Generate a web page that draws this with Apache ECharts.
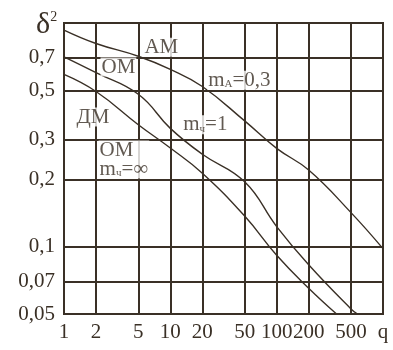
<!DOCTYPE html>
<html><head><meta charset="utf-8">
<script src="https://cdn.jsdelivr.net/npm/echarts@6/dist/echarts.min.js"></script>
<style>html,body{margin:0;padding:0;background:#fff}#c{width:393px;height:350px}</style>
</head><body><div id="c"></div>
<script>
const xTicks = [1, 2, 5, 10, 20, 50, 100, 200, 500, 1000];
const xTickLabels = ['1', '2', '5', '10', '20', '50', '100', '200', '500', 'q'];
const yTicks = [0.05, 0.07, 0.1, 0.2, 0.3, 0.5, 0.7];
const yTickLabels = ['0,05', '0,07', '0,1', '0,2', '0,3', '0,5', '0,7'];

const amQ = [1, 2, 5, 10, 20, 50, 100, 200, 500, 1000];
const amD = [0.93, 0.81, 0.71, 0.62, 0.52, 0.365, 0.275, 0.22, 0.142, 0.098];
const m1Q = [1, 2, 5, 10, 20, 50, 100, 200, 500, 576];
const m1D = [0.706, 0.60, 0.48, 0.338, 0.259, 0.195, 0.123, 0.083, 0.0527, 0.05];
const mInfQ = [1, 2, 5, 10, 20, 50, 100, 200, 366];
const mInfD = [0.589, 0.494, 0.351, 0.276, 0.213, 0.137, 0.0915, 0.0652, 0.05];

const noteTexts = ['АМ', 'ОМ', 'ДМ', 'ОМ\nm{s|ч}=∞', 'm{s|ч}=1', 'm{s|А}=0,3'];
const noteQ = [5.52, 2.18, 1.27, 2.09, 12.8, 22.0];
const noteD = [0.78, 0.635, 0.38, 0.245, 0.351, 0.555];

const ink = '#3a3026';
const font = 'Liberation Serif';

function pairs(xs, ys) { return xs.map((x, i) => [x, ys[i]]); }
function lookup(vals, labels, v) {
  const i = vals.findIndex(t => Math.abs(t - v) / t < 1e-6);
  return i >= 0 ? labels[i] : '';
}

const chart = echarts.init(document.getElementById('c'), null, { renderer: 'canvas' });
const lineStyle = { color: ink, width: 1.4 };
chart.setOption({
  animation: false,
  backgroundColor: '#fff',
  grid: { left: 64, right: 10, top: 23, bottom: 36, show: true, borderColor: ink, borderWidth: 2, backgroundColor: 'transparent' },
  xAxis: {
    type: 'log', logBase: 10, min: 1, max: 1000,
    axisLine: { show: true, lineStyle: { color: ink, width: 2 } },
    axisTick: { show: false, customValues: xTicks },
    axisLabel: { customValues: xTicks, formatter: v => lookup(xTicks, xTickLabels, v), color: ink, fontFamily: font, fontSize: 21, margin: 8 },
    splitLine: { show: true, lineStyle: { color: ink, width: 2 } },
    minorSplitLine: { show: false }
  },
  yAxis: {
    type: 'log', logBase: 10, min: 0.05, max: 1,
    axisLine: { show: true, lineStyle: { color: ink, width: 2 } },
    axisTick: { show: false, customValues: yTicks },
    axisLabel: { customValues: yTicks, formatter: v => lookup(yTicks, yTickLabels, v), color: ink, fontFamily: font, fontSize: 21, margin: 9 },
    splitLine: { show: true, lineStyle: { color: ink, width: 2 } }
  },
  graphic: [{
    type: 'text', left: 36, top: 10,
    style: { text: '{d|δ}{p|2}', rich: { d: { fontFamily: font, fontSize: 30, fill: ink }, p: { fontFamily: font, fontSize: 14, fill: ink, verticalAlign: 'top', padding: [0, 0, 14, 0] } } }
  }],
  series: [
    { type: 'line', data: pairs(amQ, amD), showSymbol: false, smooth: 0.45, lineStyle: lineStyle, z: 3 },
    { type: 'line', data: pairs(m1Q, m1D), showSymbol: false, smooth: 0.45, lineStyle: lineStyle, z: 3 },
    { type: 'line', data: pairs(mInfQ, mInfD), showSymbol: false, smooth: 0.45, lineStyle: lineStyle, z: 3 },
    {
      type: 'scatter', z: 6, symbolSize: 1, itemStyle: { color: 'rgba(0,0,0,0)' },
      data: noteTexts.map((t, i) => ({ value: [noteQ[i], noteD[i]], label: { formatter: t } })),
      label: {
        show: true, position: 'right', distance: 0, color: ink, fontFamily: font, fontSize: 21, lineHeight: 19,
        backgroundColor: '#fff', padding: [0, 1],
        rich: { s: { fontFamily: font, fontSize: 11, color: ink, verticalAlign: 'bottom', padding: [8, 0, 0, 0] } }
      },
      labelLayout: { hideOverlap: false }
    }
  ]
});
</script></body></html>
